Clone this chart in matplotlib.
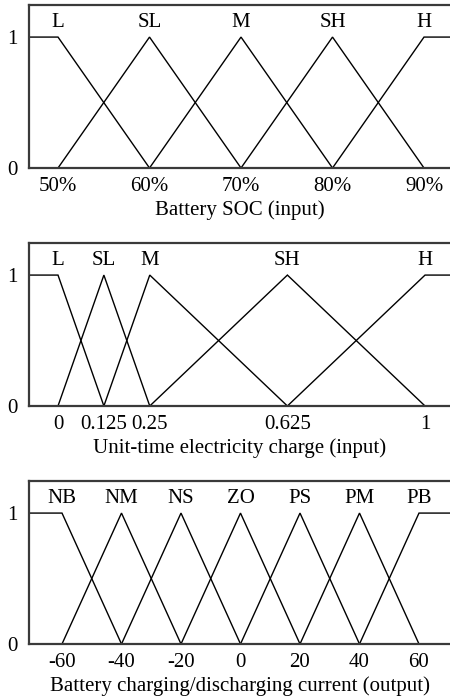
import matplotlib
matplotlib.use("Agg")
import matplotlib.pyplot as plt

plt.rcParams['font.family'] = ['Liberation Serif', 'DejaVu Serif']

# ---- data ----
soc_names = ["L", "SL", "M", "SH", "H"]
soc_centers = [50, 60, 70, 80, 90]
soc_ticklabels = ["50%", "60%", "70%", "80%", "90%"]
soc_xlabel = "Battery SOC (input)"

price_names = ["L", "SL", "M", "SH", "H"]
price_centers = [0, 0.125, 0.25, 0.625, 1]
price_ticklabels = ["0", "0.125", "0.25", "0.625", "1"]
price_xlabel = "Unit-time electricity charge (input)"

cur_names = ["NB", "NM", "NS", "ZO", "PS", "PM", "PB"]
cur_centers = [-60, -40, -20, 0, 20, 40, 60]
cur_ticklabels = ["-60", "-40", "-20", "0", "20", "40", "60"]
cur_xlabel = "Battery charging/discharging current (output)"

W, H = 450, 697
fig = plt.figure(figsize=(W / 100, H / 100), dpi=100)

panels = [
    (soc_names, soc_centers, soc_ticklabels, soc_xlabel, (46.83, 92.84), (5, 168)),
    (price_names, price_centers, price_ticklabels, price_xlabel, (-0.079, 1.068), (243, 406)),
    (cur_names, cur_centers, cur_ticklabels, cur_xlabel, (-71.09, 70.42), (481, 644)),
]

FS = 15
ytop = 1.245
for names, c, tl, xl, xlim, (ty, by) in panels:
    left = 29 / W
    ax = fig.add_axes([left, 1 - by / H, 1 - left, (by - ty) / H])
    n = len(c)
    for i in range(n):
        if i == 0:
            xs, ys = [xlim[0], c[0], c[1]], [1, 1, 0]
        elif i == n - 1:
            xs, ys = [c[-2], c[-1], xlim[1]], [0, 1, 1]
        else:
            xs, ys = [c[i - 1], c[i], c[i + 1]], [0, 1, 0]
        ax.plot(xs, ys, color='black', lw=1.0, solid_joinstyle='miter', clip_on=True)
        ax.text(c[i], 1.11, names[i], ha='center', va='center', fontsize=FS)
    ax.set_xlim(*xlim)
    ax.set_ylim(0, ytop)
    ax.set_xticks(c)
    ax.set_xticklabels(tl)
    ax.set_yticks([0, 1])
    ax.set_yticklabels(["0", "1"])
    ax.tick_params(length=0, labelsize=FS)
    ax.tick_params(axis='x', pad=6.5)
    ax.tick_params(axis='y', pad=8)
    ax.set_xlabel(xl, fontsize=FS, labelpad=3)
    ax.spines['right'].set_visible(False)
    for s in ['top', 'left', 'bottom']:
        ax.spines[s].set_linewidth(1.6)
        ax.spines[s].set_color('#3a3a3a')

fig.savefig("out.png", dpi=100)
